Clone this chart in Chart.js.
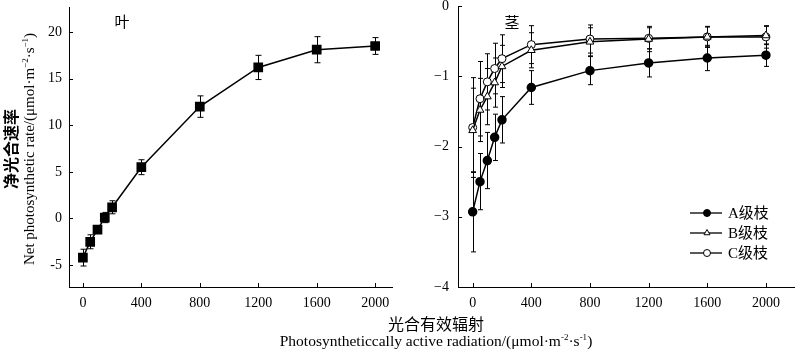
<!DOCTYPE html>
<html>
<head>
<meta charset="utf-8">
<script src="https://cdn.jsdelivr.net/npm/chart.js@4"></script>
<style>
  body { margin: 0; background: #fff; }
  #wrap { position: relative; width: 800px; height: 351px; overflow: hidden; font-family: 'Liberation Serif', 'Noto Sans CJK SC', serif; color: #000; }
  canvas { position: absolute; top: 0; }
  #leaf { left: 0; }
  #stem { left: 400px; }
  .ytitle { position: absolute; left: -109px; top: 131px; width: 260px; height: 36px; line-height: 17px; text-align: center; font-size: 15px; transform: rotate(-90deg); }
  .ytitle .cn { font-size: 16px; font-weight: bold; }
  .xtitle { position: absolute; left: 236px; top: 317px; width: 400px; line-height: 16px; text-align: center; font-size: 15.5px; }
  .xtitle .cn { font-size: 16px; }
  sup { font-size: 9px; line-height: 0; }
</style>
</head>
<body>
<div id="wrap">
  <canvas id="leaf" width="400" height="320"></canvas>
  <canvas id="stem" width="400" height="320"></canvas>
  <div class="ytitle"><span class="cn">净光合速率</span><br>Net photosynthetic rate/(μmol·m<sup>−2</sup>·s<sup>−1</sup>)</div>
  <div class="xtitle"><span class="cn">光合有效辐射</span><br>Photosyntheticcally active radiation/(μmol·m<sup>-2</sup>·s<sup>-1</sup>)</div>
</div>
<script>
// PAR levels
const parX = [0, 50, 100, 150, 200, 400, 800, 1200, 1600, 2000]
const xTicks = [0, 400, 800, 1200, 1600, 2000]

// leaf
const leafPn = [-4.2, -2.5, -1.2, 0.1, 1.2, 5.5, 12.0, 16.2, 18.1, 18.5]
const leafErr = [0.9, 0.75, 0.35, 0.55, 0.7, 0.8, 1.15, 1.3, 1.4, 0.9]
const leafTicks = [-5, 0, 5, 10, 15, 20]
const leafTickLabels = ['-5', '0', '5', '10', '15', '20']

// stem, three branch orders
const seriesNames = ['A级枝', 'B级枝', 'C级枝']
const stemA = [-2.93, -2.5, -2.2, -1.87, -1.62, -1.16, -0.92, -0.81, -0.74, -0.70]
const stemAErr = [0.57, 0.4, 0.4, 0.33, 0.33, 0.24, 0.2, 0.2, 0.18, 0.16]
const stemB = [-1.77, -1.48, -1.29, -1.09, -0.86, -0.63, -0.51, -0.47, -0.44, -0.42]
const stemBErr = [0.6, 0.45, 0.4, 0.35, 0.3, 0.25, 0.2, 0.18, 0.15, 0.13]
const stemC = [-1.73, -1.32, -1.08, -0.89, -0.75, -0.55, -0.47, -0.46, -0.44, -0.44]
const stemCErr = [0.71, 0.53, 0.4, 0.36, 0.34, 0.27, 0.2, 0.15, 0.14, 0.16]
const stemTicks = [-4, -3, -2, -1, 0]
const stemTickLabels = ['−4', '−3', '−2', '−1', '0']

Chart.defaults.font.family = "'Liberation Serif', 'Noto Sans CJK SC', serif"
Chart.defaults.font.size = 14
Chart.defaults.color = '#000'
Chart.defaults.animation = false

const pts = (ys) => parX.map((x, i) => ({ x: x, y: ys[i] }))

// error bars via the scales
const errBars = {
  id: 'errBars',
  beforeDatasetsDraw(chart, args, opts) {
    const ctx = chart.ctx, xs = chart.scales.x, ys = chart.scales.y
    ctx.save()
    ctx.strokeStyle = '#000'
    ctx.lineWidth = 1
    chart.data.datasets.forEach(ds => {
      if (!ds.err) return
      ds.data.forEach((p, i) => {
        const px = Math.round(xs.getPixelForValue(p.x)) + 0.5
        const top = ys.getPixelForValue(p.y + ds.err[i])
        const bot = ys.getPixelForValue(p.y - ds.err[i])
        const c = opts.cap
        ctx.beginPath()
        ctx.moveTo(px, top); ctx.lineTo(px, bot)
        ctx.moveTo(px - c, top); ctx.lineTo(px + c, top)
        ctx.moveTo(px - c, bot); ctx.lineTo(px + c, bot)
        ctx.stroke()
      })
    })
    ctx.restore()
  }
}

// small inward tick marks
const innerTicks = {
  id: 'innerTicks',
  afterDraw(chart) {
    const ctx = chart.ctx, a = chart.chartArea
    ctx.save()
    ctx.strokeStyle = '#000'
    ctx.lineWidth = 1
    ctx.beginPath()
    chart.scales.x.ticks.forEach(t => {
      const px = Math.round(chart.scales.x.getPixelForValue(t.value)) + 0.5
      ctx.moveTo(px, a.bottom); ctx.lineTo(px, a.bottom - 4)
    })
    chart.scales.y.ticks.forEach(t => {
      const py = Math.round(chart.scales.y.getPixelForValue(t.value)) + 0.5
      ctx.moveTo(a.left, py); ctx.lineTo(a.left + 4, py)
    })
    ctx.stroke()
    ctx.restore()
  }
}

// panel label + optional legend
const panelText = {
  id: 'panelText',
  afterDraw(chart, args, opts) {
    const ctx = chart.ctx
    ctx.save()
    ctx.fillStyle = '#000'
    ctx.font = "15px 'Noto Sans CJK SC'"
    ctx.textAlign = 'center'
    ctx.textBaseline = 'middle'
    ctx.fillText(opts.label, opts.lx, opts.ly)
    if (opts.legend) {
      const lg = opts.legend
      chart.data.datasets.forEach((ds, i) => {
        const y = lg.y + i * lg.gap
        ctx.strokeStyle = '#000'
        ctx.lineWidth = 1.3
        ctx.beginPath()
        ctx.moveTo(lg.x, y); ctx.lineTo(lg.x + 32, y)
        ctx.stroke()
        ctx.fillStyle = ds.pointBackgroundColor
        ctx.lineWidth = 1
        Chart.helpers.drawPoint(ctx, {
          pointStyle: ds.pointStyle, radius: 3.5, borderWidth: 1
        }, lg.x + 17, y)
        ctx.fillStyle = '#000'
        ctx.textAlign = 'left'
        ctx.font = "15px 'Liberation Serif', 'Noto Sans CJK SC'"
        ctx.fillText(ds.label, lg.x + 38, y + 1)
      })
    }
    ctx.restore()
  }
}

function axes(xmin, xmax, ymin, ymax, yTicks, yLabels, yWidth, yPad) {
  return {
    x: {
      type: 'linear', min: xmin, max: xmax,
      grid: { display: false, drawTicks: false },
      border: { display: true, color: '#000', width: 1 },
      afterBuildTicks: s => { s.ticks = xTicks.map(v => ({ value: v })) },
      afterFit: s => { s.height = 33; s.paddingLeft = 0; s.paddingRight = 0 },
      ticks: { padding: 8, maxRotation: 0, autoSkip: false, callback: v => String(v) }
    },
    y: {
      type: 'linear', min: ymin, max: ymax,
      grid: { display: false, drawTicks: false },
      border: { display: true, color: '#000', width: 1 },
      afterBuildTicks: s => { s.ticks = yTicks.map(v => ({ value: v })) },
      afterFit: s => { s.width = yWidth; s.paddingTop = 0; s.paddingBottom = 0 },
      ticks: { padding: yPad, autoSkip: false, callback: v => yLabels[yTicks.indexOf(v)] }
    }
  }
}

new Chart(document.getElementById('leaf'), {
  type: 'line',
  data: {
    datasets: [{
      label: '叶', data: pts(leafPn), err: leafErr,
      borderColor: '#000', borderWidth: 1.5,
      pointStyle: 'rect', pointRadius: 5.8, pointBackgroundColor: '#000', pointBorderColor: '#000'
    }]
  },
  options: {
    responsive: false,
    layout: { padding: { top: 5, right: 2, left: 0, bottom: 0 } },
    plugins: {
      legend: { display: false }, tooltip: { enabled: false },
      errBars: { cap: 3 },
      panelText: { label: '叶', lx: 122, ly: 21 }
    },
    scales: axes(-95, 2120, -7.35, 22.65, leafTicks, leafTickLabels, 69, 7)
  },
  plugins: [errBars, innerTicks, panelText]
})

new Chart(document.getElementById('stem'), {
  type: 'line',
  data: {
    datasets: [
      {
        label: seriesNames[0], data: pts(stemA), err: stemAErr,
        borderColor: '#000', borderWidth: 1.5,
        pointStyle: 'circle', pointRadius: 4, pointBackgroundColor: '#000', pointBorderColor: '#000'
      },
      {
        label: seriesNames[1], data: pts(stemB), err: stemBErr,
        borderColor: '#000', borderWidth: 1.5,
        pointStyle: 'triangle', pointRadius: 4.5, pointBorderWidth: 1, pointBackgroundColor: '#fff', pointBorderColor: '#000'
      },
      {
        label: seriesNames[2], data: pts(stemC), err: stemCErr,
        borderColor: '#000', borderWidth: 1.5,
        pointStyle: 'circle', pointRadius: 4, pointBorderWidth: 1, pointBackgroundColor: '#fff', pointBorderColor: '#000'
      }
    ]
  },
  options: {
    responsive: false,
    layout: { padding: { top: 6, right: 1, left: 0, bottom: 0 } },
    plugins: {
      legend: { display: false }, tooltip: { enabled: false },
      errBars: { cap: 2.5 },
      panelText: { label: '茎', lx: 112, ly: 22, legend: { x: 290, y: 213, gap: 20 } }
    },
    scales: axes(-100, 2195, -4, 0, stemTicks, stemTickLabels, 58, 9)
  },
  plugins: [errBars, innerTicks, panelText]
})
</script>
</body>
</html>
